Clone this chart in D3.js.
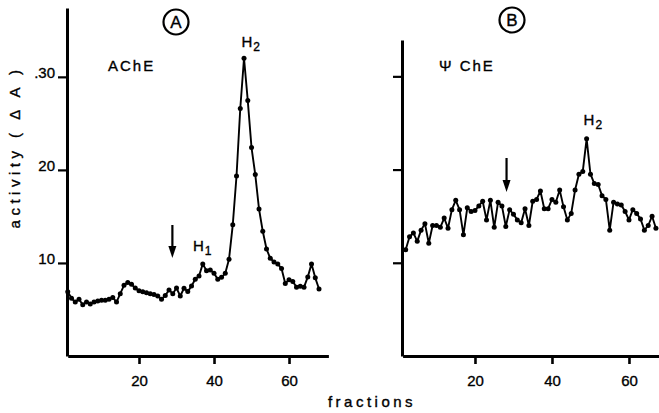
<!DOCTYPE html>
<html><head><meta charset="utf-8">
<script src="https://cdn.jsdelivr.net/npm/d3@7/dist/d3.min.js"></script>
<style>
body{margin:0;background:#fff;}
svg{display:block;font-family:"Liberation Sans",Arial,sans-serif;}
svg text{stroke:#000;stroke-width:0.35px;fill:#000;}
</style></head>
<body><svg id="c" width="659" height="413"></svg>
<script>
// ---- data ----
const fractionsA = d3.range(1, 69);
const activityA = [6.9,6.2,5.8,6.1,5.5,5.8,5.6,5.8,5.9,6.0,6.0,6.1,6.3,5.8,6.7,7.6,7.9,7.7,7.3,7.0,
  6.9,6.8,6.7,6.6,6.45,6.1,6.5,7.1,6.7,7.3,6.45,7.28,6.92,7.53,8.24,8.6,9.9,9.17,9.25,8.89,
  8.24,8.46,8.89,10.4,14.1,19.35,26.6,32.0,27.45,22.4,19.5,15.8,13.4,11.5,10.5,10.1,9.9,9.4,7.8,8.2,
  8.0,7.4,7.5,7.4,8.5,9.9,8.4,7.2];
const fractionsB = d3.range(2, 68);
const activityB = [11.4,12.8,13.2,12.3,13.5,14.2,12.1,14.0,14.0,13.8,14.8,13.7,15.7,16.7,15.7,13.0,
  15.9,15.5,15.6,16.1,16.6,14.6,16.7,13.8,16.5,16.1,13.9,15.7,15.2,14.6,14.3,15.8,14.0,16.6,
  16.8,17.7,15.8,15.8,16.8,16.5,17.8,16.0,14.6,15.3,17.8,19.5,19.8,23.3,19.5,18.5,18.4,17.2,16.8,13.5,
  16.5,16.3,16.2,15.5,14.6,15.7,15.3,14.7,13.5,14.0,15.0,13.7];
const xTicks = [20, 40, 60];
const yTicks = [10, 20, 30];
const yTickLabelsA = ["10", "20", ".30"];

const svg = d3.select("#c");

function panel(opts){
  const x = d3.scaleLinear().domain(opts.xDomain).range(opts.xRange);
  const y = d3.scaleLinear().domain(opts.yDomain).range([356, opts.yTop]);
  const g = svg.append("g");
  const ax = g.append("g").attr("transform","translate(0,356)")
    .call(d3.axisBottom(x).tickValues(xTicks).tickSize(8).tickSizeOuter(0).tickPadding(11));
  ax.select(".domain").attr("stroke-width",3);
  ax.selectAll(".tick line").attr("stroke-width",2.6);
  ax.selectAll(".tick text").attr("font-size",15);
  const ayAxis = d3.axisLeft(y).tickValues(yTicks).tickSize(9).tickSizeOuter(0).tickPadding(3)
    .tickFormat((d,i)=> opts.yLabels ? opts.yLabels[i] : "");
  const ay = g.append("g").attr("transform",`translate(${opts.yAxisX},0)`).call(ayAxis);
  ay.select(".domain").attr("stroke-width",3);
  ay.selectAll(".tick line").attr("stroke-width",2.2);
  ay.selectAll(".tick text").attr("font-size",15).attr("dy","0.05em");
  const pts = opts.fr.map((f,i)=>[f, opts.vals[i]]);
  g.append("path").datum(pts)
    .attr("fill","none").attr("stroke","#000").attr("stroke-width",1.9).attr("stroke-linejoin","round")
    .attr("d", d3.line().x(d=>x(d[0])).y(d=>y(d[1])));
  g.selectAll("circle.pt").data(pts).join("circle").attr("class","pt")
    .attr("cx",d=>x(d[0])).attr("cy",d=>y(d[1])).attr("r",2.5).attr("fill","#000");
  return {x,y,g};
}

const A = panel({xDomain:[1,70.5], xRange:[67.75,328.4], yDomain:[0,37.4], yTop:8, yAxisX:67,
  fr:fractionsA, vals:activityA, yLabels:yTickLabelsA});
const B = panel({xDomain:[1.2,67.8], xRange:[402.6,659], yDomain:[0,33.9], yTop:40, yAxisX:402,
  fr:fractionsB, vals:activityB, yLabels:null});

function circled(cx, cy, letter){
  svg.append("circle").attr("cx",cx).attr("cy",cy).attr("r",12.5).attr("fill","none")
    .attr("stroke","#000").attr("stroke-width",2.2);
  svg.append("text").attr("x",cx).attr("y",cy+6).attr("text-anchor","middle")
    .attr("font-size",17).text(letter);
}
circled(176, 22, "A");
circled(512, 20, "B");

svg.append("text").attr("x",108).attr("y",71).attr("font-size",15).attr("letter-spacing",2).text("AChE");
svg.append("text").attr("x",439).attr("y",71).attr("font-size",15).attr("letter-spacing",2).text("Ψ ChE");

function hlabel(xp, yp, sub){
  const t = svg.append("text").attr("x",xp).attr("y",yp).attr("font-size",15);
  t.append("tspan").text("H");
  t.append("tspan").attr("dy",4).attr("font-size",12).attr("dx",1).text(sub);
}
hlabel(A.x(47.3), 47, "2");
hlabel(A.x(34.4), 251, "1");
hlabel(B.x(48.2), 125, "2");

function arrow(xp, y0, y1){
  svg.append("line").attr("x1",xp).attr("x2",xp).attr("y1",y0).attr("y2",y1-9)
    .attr("stroke","#000").attr("stroke-width",2.2);
  svg.append("path").attr("d",`M${xp-4},${y1-12}L${xp+4},${y1-12}L${xp},${y1}Z`).attr("fill","#000");
}
arrow(A.x(28.9), 225, 258);
arrow(B.x(28.2), 158, 192);

svg.append("text").attr("x",372).attr("y",407).attr("text-anchor","middle")
  .attr("font-size",15).attr("letter-spacing",3.5).text("fractions");
svg.append("text").attr("transform","translate(20,147) rotate(-90)").attr("text-anchor","middle")
  .attr("font-size",15).attr("letter-spacing",4.5).text("activity ( Δ A )");
</script></body></html>
